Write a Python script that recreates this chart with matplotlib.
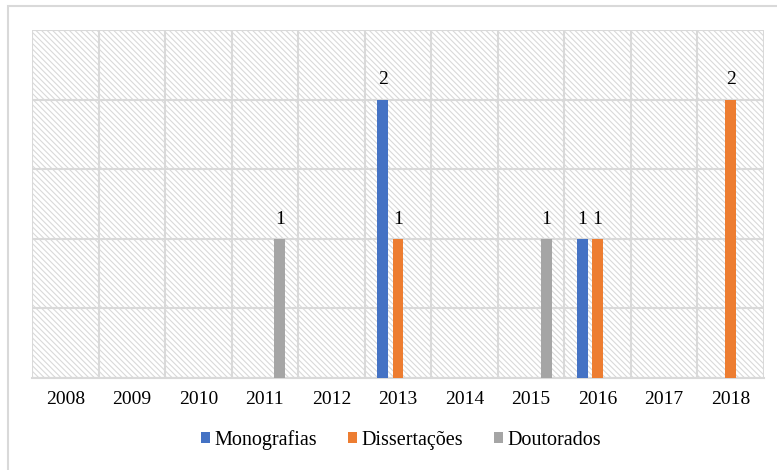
import matplotlib.pyplot as plt
from matplotlib.patches import Rectangle
import numpy as np

plt.rcParams['font.family'] = ['Liberation Serif', 'DejaVu Serif']
plt.rcParams['hatch.linewidth'] = 0.8

# data
anos = ['2008', '2009', '2010', '2011', '2012', '2013', '2014', '2015', '2016', '2017', '2018']
monografias = [0, 0, 0, 0, 0, 2, 0, 0, 1, 0, 0]
dissertacoes = [0, 0, 0, 0, 0, 1, 0, 0, 1, 0, 2]
doutorados = [0, 0, 0, 1, 0, 0, 0, 1, 0, 0, 0]

series = [
    ('Monografias', monografias, '#4472C4'),
    ('Dissertações', dissertacoes, '#ED7D31'),
    ('Doutorados', doutorados, '#A5A5A5'),
]

fig = plt.figure(figsize=(7.77, 4.70), dpi=100)
ax = fig.add_axes([32/777, 1 - 378/470, (764 - 32)/777, (378 - 30)/470])

# outer frame
fig.patches.append(Rectangle((8/777, -0.1), 1.2, 1 - 6/470 + 0.1, transform=fig.transFigure,
                             fill=False, edgecolor='#d9d9d9', lw=1.5, clip_on=False))

# hatched background of plot area
ax.add_patch(Rectangle((0, 0), 1, 1, transform=ax.transAxes, facecolor='white',
                       edgecolor='#d9d9d9', hatch='\\' * 6, lw=0, zorder=0))

x = np.arange(len(anos))
w = 0.165
offs = [-0.226, 0, 0.226]
for (nome, vals, cor), off in zip(series, offs):
    vals = np.array(vals)
    ax.bar(x + off, vals, w, color=cor, label=nome, zorder=3)
    for xi, v in zip(x + off, vals):
        if v > 0:
            ax.annotate(str(v), (xi, v), xytext=(0, 8), textcoords='offset points',
                        ha='center', va='bottom', fontsize=14)

ax.set_xlim(-0.5, len(anos) - 0.5)
ax.set_ylim(0, 2.5)
ax.set_yticks(np.arange(0, 2.51, 0.5))
ax.set_yticklabels([])
ax.set_xticks(x)
ax.set_xticklabels(anos, fontsize=14)
ax.set_xticks(np.arange(-0.5, len(anos), 1), minor=True)
ax.tick_params(axis='x', which='both', length=0, pad=9)
ax.tick_params(axis='y', length=0)
ax.grid(axis='y', color='#d9d9d9', lw=1.5, zorder=1)
ax.grid(axis='x', which='minor', color='#d9d9d9', lw=1.5, zorder=1)
ax.grid(axis='x', which='major', visible=False)
for s in ['top', 'right', 'left']:
    ax.spines[s].set_visible(False)
ax.spines['bottom'].set_color('#d9d9d9')
ax.spines['bottom'].set_linewidth(1.5)

fig.legend(loc='center', bbox_to_anchor=(401/777, 1 - 440/470), ncol=3, frameon=False,
           fontsize=14.5, handlelength=0.45, handleheight=0.45, handletextpad=0.25,
           columnspacing=1.5)

plt.savefig('out.png', dpi=100)
